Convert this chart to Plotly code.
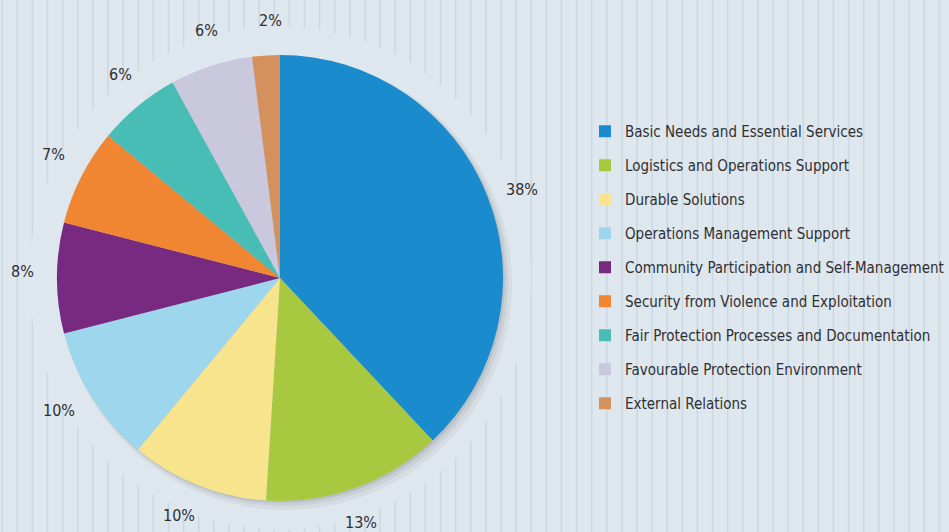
import numpy as np
import plotly.graph_objects as go

categories = [
    "Basic Needs and Essential Services",
    "Logistics and Operations Support",
    "Durable Solutions",
    "Operations Management Support",
    "Community Participation and Self-Management",
    "Security from Violence and Exploitation",
    "Fair Protection Processes and Documentation",
    "Favourable Protection Environment",
    "External Relations",
]
values = [38, 13, 10, 10, 8, 7, 6, 6, 2]
pct_labels = ["38%", "13%", "10%", "10%", "8%", "7%", "6%", "6%", "2%"]
colors = ["#1a8bcd", "#a8c93f", "#f8e48c", "#9ed6ee", "#772a80",
          "#f08532", "#48bdb5", "#c9c8dd", "#d4915e"]

W, H = 949, 532
cx, cy, R = 280, 278, 223
FONT = "DejaVu Sans Condensed, Liberation Sans Narrow, sans-serif"
BG = "#dfe7ee"
LINE = "#cad9e1"
LEG_FS = 15


def dom(dx=0, dy=0, dr=0):
    r = R + dr
    return dict(x=[(cx + dx - r) / W, (cx + dx + r) / W],
                y=[1 - (cy + dy + r) / H, 1 - (cy + dy - r) / H])


fig = go.Figure()

# soft shadow under the pie
for dx, dy, dr, a in [(6, 6, 3, 0.05), (4, 4, 1, 0.07), (2, 2, 0, 0.09)]:
    fig.add_trace(go.Pie(values=[1], labels=["shadow"], domain=dom(dx, dy, dr),
                         marker=dict(colors=[f"rgba(40,40,40,{a})"], line=dict(width=0)),
                         textinfo="none", hoverinfo="skip", showlegend=False, sort=False))

fig.add_trace(go.Pie(
    labels=categories, values=values, sort=False, direction="clockwise", rotation=0,
    domain=dom(), marker=dict(colors=colors, line=dict(width=0)),
    textinfo="none", showlegend=False, hovertemplate="%{label}: %{value}%<extra></extra>",
))

# legend via dummy traces (to get the wider row spacing)
for i, (c, col) in enumerate(zip(categories, colors)):
    fig.add_trace(go.Scatter(x=[None], y=[None], mode="markers", name=c,
                             legendgroup=f"g{i}",
                             marker=dict(symbol="square", size=12, color=col)))

# percentage labels placed around the pie from the data
vals = np.array(values, dtype=float)
mids = (np.cumsum(vals) - vals / 2) / vals.sum() * 2 * np.pi + np.radians(1.5)
RL = 258
annotations = []
for t, a in zip(pct_labels, mids):
    px = cx + RL * np.sin(a)
    py = cy - RL * np.cos(a)
    annotations.append(dict(x=px / W, y=1 - py / H, xref="paper", yref="paper",
                            xanchor="center", yanchor="middle",
                            text=t, showarrow=False,
                            font=dict(family=FONT, size=16, color="#2f2f33")))

# background vertical stripes, hidden in a halo around the pie
shapes = []
xs = np.arange(2.2, W, 15.115)
for x in xs:
    shapes.append(dict(type="line", xref="paper", yref="paper", layer="below",
                       x0=x / W, x1=x / W, y0=0, y1=1,
                       line=dict(color=LINE, width=1.5)))
RH = 251
shapes.append(dict(type="circle", xref="paper", yref="paper", layer="below",
                   x0=(cx - RH) / W, x1=(cx + RH) / W,
                   y0=1 - (cy + RH) / H, y1=1 - (cy - RH) / H,
                   fillcolor=BG, line=dict(width=0)))

fig.update_layout(
    width=W, height=H, margin=dict(l=0, r=0, t=0, b=0, autoexpand=False),
    paper_bgcolor=BG, plot_bgcolor="rgba(0,0,0,0)",
    xaxis=dict(visible=False), yaxis=dict(visible=False),
    annotations=annotations, shapes=shapes,
    legend=dict(x=585 / W, y=1 - 115 / H, xanchor="left", yanchor="top",
                bgcolor="rgba(0,0,0,0)", tracegroupgap=11.5, itemclick=False,
                font=dict(family=FONT, size=LEG_FS, color="#2f2f33")),
    showlegend=True,
)

fig.write_html("out.html", config={"displayModeBar": False},
               post_script="document.body.style.margin='0';document.body.style.overflow='hidden';")
